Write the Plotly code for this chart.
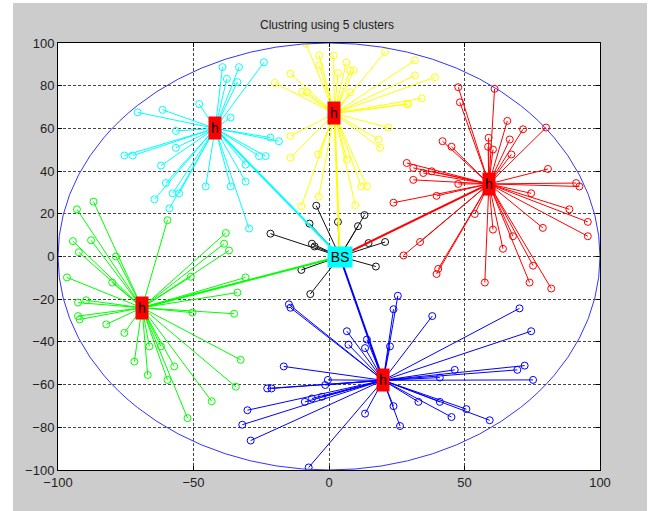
import plotly.graph_objects as go

# ---- data ----
bs_x, bs_y = 4, 0
head_x = [-42, 2, 59, -69, 20]
head_y = [60, 67, 34, -24, -58]
colors = ["#00ffff", "#ffff00", "#ff0000", "#00ff00", "#0000ff"]

cyan_x = [-39.3, -33.2, -37.7, -33.8, -47.9, -61.4, -70.6, -36.3, -56.5, -56.5, -75.5, -72.4, -62, -45.5, -36.3,
          -30.8, -60.2, -57.7, -55.3, -64.4, -58.9, -24, -21.6, -18.5, -25.8, -23.4, -30.8, -29.5]
cyan_y = [88.7, 88.7, 83.2, 81.7, 71.4, 68.7, 67.5, 65.1, 58.8, 50.9, 47.3, 47.3, 42.6, 32.8, 32.8,
          35.1, 34.4, 29.6, 29.6, 26.8, 22.5, 91, 55.7, 54, 47, 47, 43, 13.1]

yellow_x = [-8.5, -3.6, 1.7, -3.6, 20.7, 6.4, 7.8, 9.1, 3.3, -14.2, -20, -9.9, -8.1, 7.8, 29.3, 21.9, 18.3, 18.9,
            -14.2, -14.2, -4, 6.6, 11.9, 14, -3.8, -10.2, 9.7, 31.7, 31.7, 39.1, 34.2, 28.7]
yellow_y = [99.8, 94.2, 94.2, 89.5, 95.8, 90.8, 87.1, 87.1, 85.9, 85.6, 81.3, 77.2, 76.9, 76.9, 71.4, 60.4, 54.8, 50.9,
            56.4, 46.2, 47.8, 45.4, 32.8, 32.8, 28, 23.6, 24.1, 91.9, 84.8, 84, 74.1, 71.4]

red_x = [47.7, 61.1, 48.3, 65.8, 71.6, 80.1, 58.9, 66.7, 41.9, 45.2, 58.7, 60.5, 67.3, 28.7, 31.1, 34.8, 37.9, 80.8,
         31.1, 47.7, 91.2, 92.4, 74.6, 39.7, 23.8, 88.7, 53.8, 95.5, 78.9, 60.5, 95.5, 67.9, 33.6, 64.2, 27.5, 75.3,
         40.3, 39.7, 57.5, 74, 82]
red_y = [79.3, 78.5, 72.2, 63.5, 59.6, 60.4, 55.6, 54.8, 54, 51.4, 51.4, 50.1, 47.8, 43.8, 41.5, 39.1, 39.9, 41,
         35.9, 34, 34.4, 32.8, 29.6, 28.4, 25.2, 22.1, 19.9, 16.2, 13.4, 12.6, 9.5, 9.5, 6.8, 3.6, 0.5, -4.3,
         -5.8, -8.2, -12.2, -12.2, -15]

green_x = [-86.9, -93, -94.5, -87.8, -92.3, -78.6, -96.7, -80, -92.6, -89.6, -92.6, -92, -82.2, -75.5, -59.6, -38.1,
           -38.7, -36.9, -51, -30.8, -33.8, -50.4, -35, -66.3, -62, -71.8, -57.1, -32.6, -66.9, -59.6, -34.4, -43.3,
           -52.2]
green_y = [25.7, 22.1, 7.2, 7.6, 2, 0, -9.8, -12.2, -21.6, -20.5, -27.9, -29.5, -31.8, -35.8, 17, 11,
           6, 2.8, -9.5, -9.8, -16.9, -26.3, -26.8, -42.1, -42.1, -49.2, -51.5, -48.4, -55.5, -57.8, -61, -67.8,
           -75.7]

blue_x = [25.4, -14.8, -14.2, 23.8, 38.1, 70.3, 74.6, 6.6, 7.2, 14, 13.3, 22.5, -16.7, 46.4, 72.2, 69.5, 40.9, 75.3,
          -0.4, -1.4, -22.8, -21.2, -8.9, -6.3, -2.6, 33, 40.9, 50.7, 59.3, 45.2, 23.8, 13.3, 26.2, -30.1, -32,
          -28.9, -7.5]
blue_y = [-18.4, -22.4, -24, -24.7, -27.9, -24.3, -35, -35, -41.3, -38.9, -42.9, -42.1, -51.5, -53.1, -51.1, -53.1,
          -56.7, -57.8, -57.8, -60.2, -61.8, -61.8, -68.1, -66.5, -65.7, -68.1, -68.1, -71.5, -76.7, -75.2, -70.1,
          -73.6, -79.4, -72, -78.8, -86.2, -98.8]

black_x = [-4.7, -7.2, -21.6, -6.3, -5.3, 3.3, 13.1, 10.7, 14.6, 20.7, 17.3, -10.2, -6.9]
black_y = [23.8, 15.4, 10.7, 6, 4.7, 16.2, 19.4, 14.2, 6.3, 6.8, -4.7, -6.3, -17.6]

members = [(cyan_x, cyan_y), (yellow_x, yellow_y), (red_x, red_y), (green_x, green_y), (blue_x, blue_y)]

fig = go.Figure()

def star(cx, cy, xs, ys):
    lx, ly = [], []
    for x, y in zip(xs, ys):
        lx += [cx, x, None]
        ly += [cy, y, None]
    return lx, ly

# member lines + markers
for i, (xs, ys) in enumerate(members):
    lx, ly = star(head_x[i], head_y[i], xs, ys)
    fig.add_trace(go.Scatter(x=lx, y=ly, mode="lines", line=dict(color=colors[i], width=1),
                             hoverinfo="skip", showlegend=False))
    fig.add_trace(go.Scatter(x=xs, y=ys, mode="markers",
                             marker=dict(symbol="circle-open", size=7, color=colors[i], line=dict(width=1)),
                             showlegend=False))

lx, ly = star(bs_x, bs_y, black_x, black_y)
fig.add_trace(go.Scatter(x=lx, y=ly, mode="lines", line=dict(color="#111111", width=1),
                         hoverinfo="skip", showlegend=False))
fig.add_trace(go.Scatter(x=black_x, y=black_y, mode="markers",
                         marker=dict(symbol="circle-open", size=7, color="#111111", line=dict(width=1)),
                         showlegend=False))

# heads to BS
for i in range(5):
    fig.add_trace(go.Scatter(x=[head_x[i], bs_x], y=[head_y[i], bs_y], mode="lines",
                             line=dict(color=colors[i], width=2), showlegend=False))

# circle boundary
fig.add_shape(type="circle", xref="x", yref="y", x0=-100, y0=-100, x1=100, y1=100,
              line=dict(color="#3333ff", width=1))

# head labels
for i in range(5):
    fig.add_annotation(x=head_x[i], y=head_y[i], text="h", showarrow=False, bgcolor="#ff0000",
                       width=12, height=22, borderpad=0, font=dict(size=14, color="#000000",
                       family="Liberation Sans, Arial"))
fig.add_annotation(x=bs_x, y=bs_y, text="BS", showarrow=False, bgcolor="#00ffff",
                   width=24, height=20, borderpad=0,
                   font=dict(size=14, color="#000000", family="Liberation Sans, Arial"))

# figure border strips (white)
for (x0, x1, y0, y1) in [(-0.2, (13 - 58) / 542, -0.2, 1.2), ((647 - 58) / 542, 1.2, -0.2, 1.2),
                         (-0.2, 1.2, (470 - 3) / 427, 1.2)]:
    fig.add_shape(type="rect", xref="paper", yref="paper", x0=x0, x1=x1, y0=y0, y1=y1,
                  line=dict(width=0), fillcolor="#ffffff", layer="below")

axis_common = dict(showgrid=True, gridcolor="#444444", griddash="3px,2px", gridwidth=1,
                   showline=True, linecolor="#000000", linewidth=1, mirror="ticks",
                   ticks="inside", ticklen=4, tickcolor="#000000", zeroline=False,
                   tickfont=dict(family="Liberation Sans, Arial", size=13, color="#222222"))

fig.update_layout(
    width=654, height=511,
    margin=dict(l=58, r=54, t=43, b=41),
    paper_bgcolor="#cccccc", plot_bgcolor="#ffffff",
    title=dict(text="Clustring using 5 clusters", x=0.5, xanchor="center", y=1 - 25 / 511, yanchor="middle",
               font=dict(family="Liberation Sans, Arial", size=12, color="#222222")),
    xaxis=dict(range=[-100, 100], tickvals=[-100, -50, 0, 50, 100], **axis_common),
    yaxis=dict(range=[-100, 100], tickvals=list(range(-100, 101, 20)), **axis_common),
    showlegend=False,
)

fig.write_html("out.html", config={"displayModeBar": False},
               post_script="document.body.style.margin='0';document.body.style.overflow='hidden';")
